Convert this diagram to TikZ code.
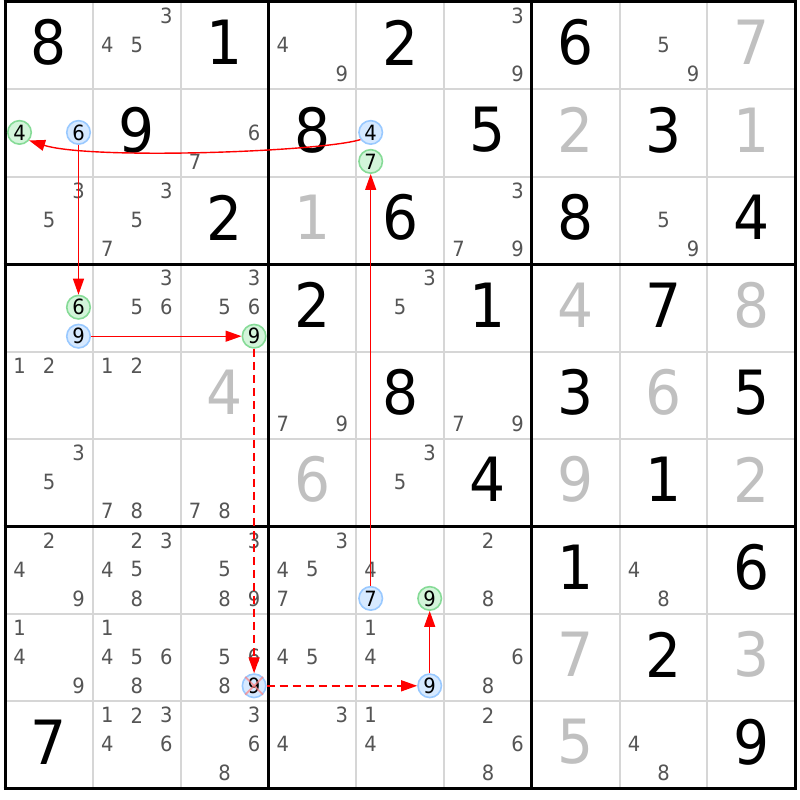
\documentclass[tikz,border=0pt]{standalone}
\usepackage{fontspec}
\usetikzlibrary{arrows.meta}
\newfontfamily\digf[FakeStretch=0.93]{DejaVu Sans}
\newcommand\smallf{\digf\fontsize{21}{21}\selectfont}
\newcommand\bigf{\digf\fontsize{61}{61}\selectfont}
\definecolor{candgray}{HTML}{555555}
\definecolor{solvedgray}{HTML}{C0C0C0}
\definecolor{thingray}{HTML}{D6D6D6}
\definecolor{bfill}{HTML}{D6E9FF}
\definecolor{bdraw}{HTML}{99C9FF}
\definecolor{gfill}{HTML}{D3F5DA}
\definecolor{gdraw}{HTML}{86DB97}
\definecolor{chainred}{HTML}{FF0000}
\def\cw{87.8}
\def\ch{87.4}
\newcommand\setpos[3]{%
  \pgfmathtruncatemacro\kk{mod(#3-1,3)}%
  \pgfmathtruncatemacro\mm{(#3-1)/3}%
  \pgfmathsetmacro\px{5+(#2-1)*\cw+14.5+29.5*\kk}%
  \pgfmathsetmacro\py{2+(#1-1)*\ch+14+29*\mm}}
\begin{document}
\begin{tikzpicture}[x=1pt,y=-1pt,
  given/.style={font=\bigf,text=black,inner sep=0pt},
  solved/.style={font=\bigf,text=solvedgray,inner sep=0pt},
  cnd/.style={font=\smallf,text=candgray,inner sep=0pt},
  hlb/.style={circle,draw=bdraw,fill=bfill,line width=1.6pt,minimum size=23.5pt,inner sep=0pt,font=\smallf,text=black},
  hlg/.style={circle,draw=gdraw,fill=gfill,line width=1.6pt,minimum size=23.5pt,inner sep=0pt,font=\smallf,text=black},
  gridthin/.style={draw=thingray,line width=2pt},
  gridthick/.style={draw=black,line width=3pt},
  chain/.style={draw=chainred,line width=1.4pt,-{Triangle[length=16pt,width=11pt]}},
  dashchain/.style={chain,dash pattern=on 8pt off 5pt},
  xmark/.style={draw=red!50,line width=1.8pt,opacity=0.7}]
\path[fill=white,use as bounding box] (0,0) rectangle (800,800);
% thin grid lines
\foreach \i in {1,2,4,5,7,8} {
  \draw[gridthin] ({5+\i*\cw},2) -- ({5+\i*\cw},{2+9*\ch});
  \draw[gridthin] (5,{2+\i*\ch}) -- ({5+9*\cw},{2+\i*\ch});
}
% thick grid lines
\foreach \i in {0,3,6,9} {
  \draw[gridthick] ({5+\i*\cw},0.5) -- ({5+\i*\cw},{3.5+9*\ch});
  \draw[gridthick] (3.5,{2+\i*\ch}) -- ({6.5+9*\cw},{2+\i*\ch});
}
% given digits
\foreach \rr/\cc/\dd in {1/1/8,1/3/1,1/5/2,1/7/6,2/2/9,2/4/8,2/6/5,2/8/3,3/3/2,3/5/6,3/7/8,3/9/4,4/4/2,4/6/1,4/8/7,5/5/8,5/7/3,5/9/5,6/6/4,6/8/1,7/7/1,7/9/6,8/8/2,9/1/7,9/9/9}
  \node[given] (g\rr\cc) at ({5+(\cc-0.5)*\cw},{2+(\rr-0.5)*\ch-3}) {\dd};
% solved digits
\foreach \rr/\cc/\dd in {1/9/7,2/7/2,2/9/1,3/4/1,4/7/4,4/9/8,5/3/4,5/8/6,6/4/6,6/7/9,6/9/2,8/7/7,8/9/3,9/7/5}
  \node[solved] (s\rr\cc) at ({5+(\cc-0.5)*\cw},{2+(\rr-0.5)*\ch-3}) {\dd};
% candidates
\foreach \rr/\cc/\ds in {1/2/{3,4,5},1/4/{4,9},1/6/{3,9},1/8/{5,9},
  2/3/{6,7},
  3/1/{3,5},3/2/{3,5,7},3/6/{3,7,9},3/8/{5,9},
  4/2/{3,5,6},4/3/{3,5,6},4/5/{3,5},
  5/1/{1,2},5/2/{1,2},5/4/{7,9},5/6/{7,9},
  6/1/{3,5},6/2/{7,8},6/3/{7,8},6/5/{3,5},
  7/1/{2,4,9},7/2/{2,3,4,5,8},7/3/{3,5,8,9},7/4/{3,4,5,7},7/5/{4},7/6/{2,8},7/8/{4,8},
  8/1/{1,4,9},8/2/{1,4,5,6,8},8/3/{5,6,8},8/4/{4,5},8/5/{1,4},8/6/{6,8},
  9/2/{1,2,3,4,6},9/3/{3,6,8},9/4/{3,4},9/5/{1,4},9/6/{2,6,8},9/8/{4,8}}
  {\foreach \dd in \ds {\setpos{\rr}{\cc}{\dd}\node[cnd] (k\rr\cc\dd) at (\px,\py) {\dd};}}
% highlighted candidates
\setpos{2}{1}{4}\node[hlg] (h214) at (\px,\py) {4};
\setpos{2}{1}{6}\node[hlb] (h216) at (\px,\py) {6};
\setpos{2}{5}{4}\node[hlb] (h254) at (\px,\py) {4};
\setpos{2}{5}{7}\node[hlg] (h257) at (\px,\py) {7};
\setpos{4}{1}{6}\node[hlg] (h416) at (\px,\py) {6};
\setpos{4}{1}{9}\node[hlb] (h419) at (\px,\py) {9};
\setpos{4}{3}{9}\node[hlg] (h439) at (\px,\py) {9};
\setpos{7}{5}{7}\node[hlb] (h757) at (\px,\py) {7};
\setpos{7}{5}{9}\node[hlg] (h759) at (\px,\py) {9};
\setpos{8}{3}{9}\node[hlb] (h839) at (\px,\py) {9};
\setpos{8}{5}{9}\node[hlb] (h859) at (\px,\py) {9};
% elimination mark
\draw[xmark] (h839.north west) -- (h839.south east);
\draw[xmark] (h839.north east) -- (h839.south west);
% chain
\draw[chain] (h254.215) .. controls (320,152) and (90,160) .. (h214.-40);
\draw[chain] (h216) -- (h416);
\draw[chain] (h419) -- (h439);
\draw[dashchain] (h439) -- (h839);
\draw[dashchain] (h839) -- (h859);
\draw[chain] (h859) -- (h759);
\draw[chain] (h757) -- (h257);
\end{tikzpicture}
\end{document}
